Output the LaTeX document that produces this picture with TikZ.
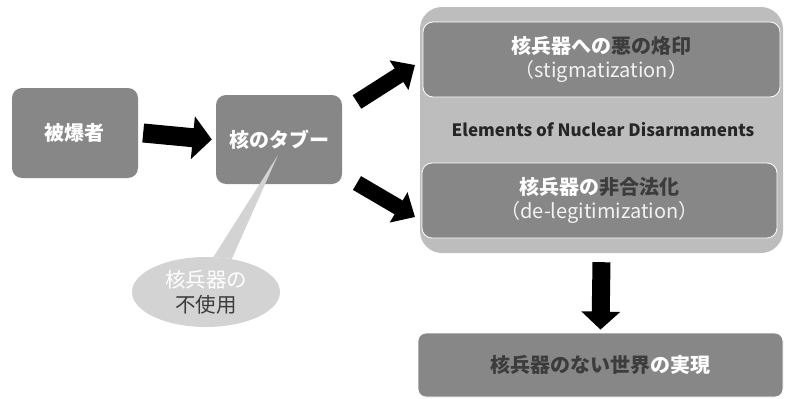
\documentclass[tikz,border=0pt]{standalone}
\usepackage{fontspec}
\setmainfont{Noto Sans CJK JP}
\usetikzlibrary{arrows.meta,shapes.geometric}
\definecolor{boxg}{HTML}{878787}
\definecolor{contg}{HTML}{BDBDBD}
\definecolor{callg}{HTML}{D3D3D3}
\definecolor{darkt}{HTML}{3C3C3C}
\definecolor{paren}{HTML}{F2F2F2}
\begin{document}
\begin{tikzpicture}[x=1pt,y=-1pt,
  box/.style={rounded corners=10pt, fill=boxg, inner sep=0pt, align=center,
    font=\bfseries\fontsize{20}{24}\selectfont, text=white},
  inbox/.style={box, draw=white, line width=0.8pt},
  blk/.style={line width=19pt, draw=black, -{Triangle[length=19pt,width=42pt]}},
  blkd/.style={line width=16pt, draw=black, -{Triangle[length=19pt,width=34pt]}},
  blkv/.style={line width=18pt, draw=black, -{Triangle[length=18pt,width=38pt]}},
  sub/.style={font=\mdseries\fontsize{19}{24}\selectfont, text=paren}]
\useasboundingbox (0,0) rectangle (785,399);
% left boxes
\node[box, minimum width=126pt, minimum height=90pt] (hib) at (75,133) {被爆者};
\node[box, minimum width=126pt, minimum height=89pt] (taboo) at (279,139.5) {核のタブー};
% container
\node[rounded corners=22pt, fill=contg, minimum width=363pt, minimum height=246pt, inner sep=0pt] (cont) at (601.5,130) {};
\node[inbox, minimum width=357pt, minimum height=75pt] (stig) at (601.5,59.5)
  {核兵器への\textcolor{darkt}{悪の烙印}\\{\mdseries\fontsize{20}{24}\selectfont\color{paren}（stigmatization）}};
\node[font=\bfseries\fontsize{17}{20}\selectfont, text=black!85] (elem) at (603,130) {Elements of Nuclear Disarmaments};
\node[inbox, minimum width=355pt, minimum height=75pt] (deleg) at (599.5,200.5)
  {核兵器の\textcolor{darkt}{非合法化}\\{\mdseries\fontsize{20}{24}\selectfont\color{paren}（de-legitimization）}};
% goal
\node[box, rounded corners=8pt, draw=white, line width=0.8pt, minimum width=365pt, minimum height=64pt, text=darkt] (goal) at (600.5,365)
  {核兵器のない世界\textcolor{white}{の実現}};
% callout
\coordinate (ptip) at (278,155);
\node[ellipse, fill=callg, minimum width=148pt, minimum height=70pt, inner sep=0pt, align=center,
  font=\mdseries\fontsize{20.5}{25}\selectfont] (call) at (206,292)
  {\textcolor{white}{核兵器の}\\\textcolor{darkt}{不使用}};
\fill[callg] (call.78) -- (ptip) -- (call.52) -- cycle;
% arrows
\coordinate (u0) at (357,102); \coordinate (u1) at (415,65);
\coordinate (d0) at (357,183); \coordinate (d1) at (415,217);
\draw[blk] ([xshift=5pt]hib.east) -- ([xshift=-4pt]taboo.west);
\draw[blkd] (u0) -- (u1);
\draw[blkd] (d0) -- (d1);
\draw[blkv] ([yshift=-9pt]cont.south) -- ([yshift=3pt]goal.north);
\end{tikzpicture}
\end{document}
